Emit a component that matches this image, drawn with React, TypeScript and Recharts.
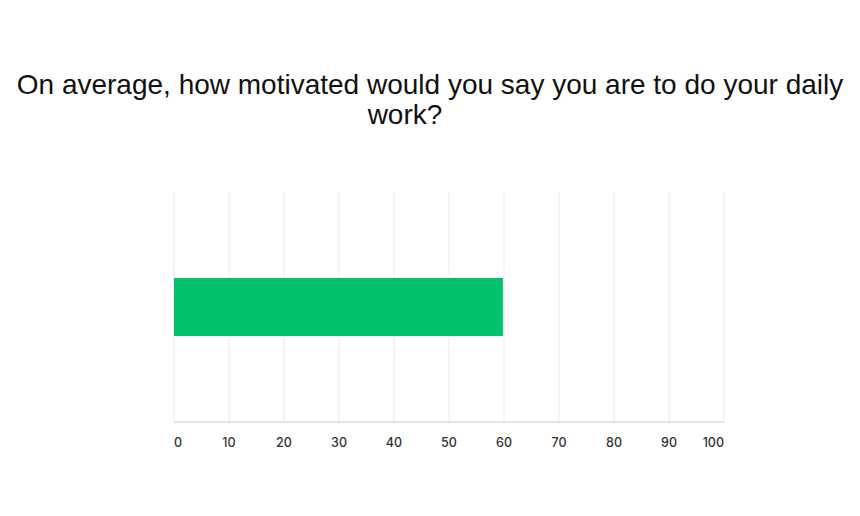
import { BarChart, Bar, XAxis, YAxis, CartesianGrid } from 'recharts';

const categories = ['Motivation'];
const averages = [59.8];
const xTicks = [0, 10, 20, 30, 40, 50, 60, 70, 80, 90, 100];

const data = categories.map((name, i) => ({ name, value: averages[i] }));

function XTick({ x, y, payload }: any) {
  const v = payload.value;
  const anchor = v === 0 ? 'start' : v === 100 ? 'end' : 'middle';
  return (
    <text
      x={x}
      y={y}
      dy={25}
      textAnchor={anchor}
      fontSize={12.5}
      fontFamily="Inter, sans-serif"
      fontWeight={500}
      fill="#333"
    >
      {v}
    </text>
  );
}

const titleStyle = {
  position: 'absolute' as const,
  left: 0,
  textAlign: 'center' as const,
  fontFamily: '"Liberation Sans", Arial, sans-serif',
  fontSize: 28,
  lineHeight: '31px',
  color: '#111',
  whiteSpace: 'nowrap' as const,
};

export default function App() {
  return (
    <div style={{ position: 'absolute', left: 0, top: 0, width: 860, height: 516, background: '#fff' }}>
      <div style={{ ...titleStyle, top: 69, width: 860 }}>
        On average, how motivated would you say you are to do your daily
      </div>
      <div style={{ ...titleStyle, top: 99, width: 810 }}>work?</div>
      <div style={{ position: 'absolute', left: 0, top: 0 }}>
        <BarChart
          width={860}
          height={516}
          data={data}
          layout="vertical"
          margin={{ top: 192, right: 136, bottom: 64, left: 174 }}
        >
          <CartesianGrid horizontal={false} stroke="#ebebeb" />
          <XAxis
            type="number"
            domain={[0, 100]}
            ticks={xTicks}
            tickLine={false}
            tickSize={0}
            tickMargin={0}
            axisLine={{ stroke: '#c8c8c8' }}
            tick={<XTick />}
            height={30}
            interval={0}
          />
          <YAxis
            type="category"
            dataKey="name"
            width={0}
            tick={false}
            tickLine={false}
            axisLine={{ stroke: '#c8c8c8' }}
          />
          <Bar dataKey="value" fill="#02c26d" barSize={58} isAnimationActive={false} />
        </BarChart>
      </div>
    </div>
  );
}
